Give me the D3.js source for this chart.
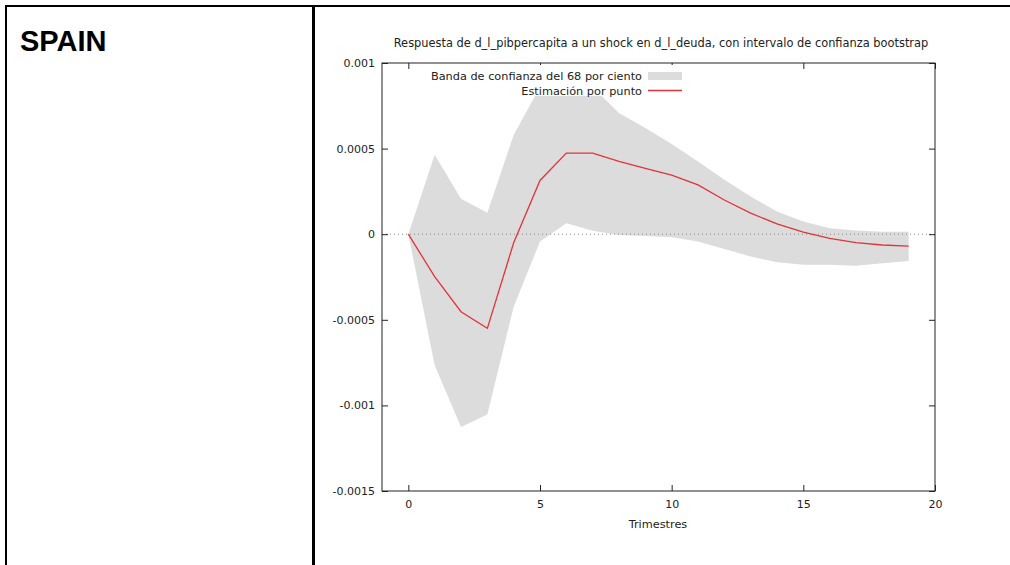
<!DOCTYPE html>
<html>
<head>
<meta charset="utf-8">
<script src="https://cdn.jsdelivr.net/npm/d3@7"></script>
<style>
    body { margin: 0; background: #fff; }
    svg { display: block; }
</style>
</head>
<body>
<script>
// impulse response, Spain

var trimestres = [0, 1, 2, 3, 4, 5, 6, 7, 8, 9, 10, 11, 12, 13, 14, 15, 16, 17, 18, 19];
var estimacion = [0, -0.000248, -0.000453, -0.00055, -0.00005, 0.000314, 0.000474, 0.000474, 0.000425, 0.000385,
    0.000345, 0.000288, 0.0002, 0.000123, 0.00006, 0.000012, -0.000024, -0.000049, -0.000063, -0.00007];
var banda_sup = [0, 0.000464, 0.000207, 0.000126, 0.00058, 0.00086, 0.00093, 0.00086, 0.000708, 0.00062,
    0.000527, 0.000425, 0.000318, 0.00022, 0.000132, 0.000074, 0.000035, 0.000021, 0.000015, 0.000015];
var banda_inf = [0, -0.000765, -0.001126, -0.001053, -0.000424, -0.000043, 0.000064, 0.00002, -0.000004, -0.00001,
    -0.000018, -0.000043, -0.000086, -0.00013, -0.000164, -0.000178, -0.000178, -0.000185, -0.00017, -0.000156];

var x_ticks = [0, 5, 10, 15, 20];
var y_ticks = [-0.0015, -0.001, -0.0005, 0, 0.0005, 0.001];
var y_labels = ["-0.0015", "-0.001", "-0.0005", "0", "0.0005", "0.001"];

var titulo = "Respuesta de d_l_pibpercapita a un shock en d_l_deuda, con intervalo de confianza bootstrap";
var leyenda = ["Banda de confianza del 68 por ciento", "Estimación por punto"];

var svg = d3.select("body").append("svg").attr("width", 1010).attr("height", 565);

// table lines
svg.append("line").attr("x1", 5).attr("x2", 1010).attr("y1", 6).attr("y2", 6)
    .style("stroke", "#000").style("stroke-width", 2);
svg.append("line").attr("x1", 6).attr("x2", 6).attr("y1", 5).attr("y2", 565)
    .style("stroke", "#000").style("stroke-width", 2);
svg.append("line").attr("x1", 313.5).attr("x2", 313.5).attr("y1", 5).attr("y2", 565)
    .style("stroke", "#000").style("stroke-width", 3);

svg.append("text").attr("x", 20).attr("y", 51)
    .style("font-family", "'Liberation Sans', Arial, sans-serif")
    .style("font-weight", "bold").style("font-size", "29px")
    .text("SPAIN");

var p_left = 382, p_right = 935, p_top = 63, p_bottom = 491;
var x = d3.scaleLinear().domain([-1, 20]).range([p_left, p_right]);
var y = d3.scaleLinear().domain([-0.0015, 0.001]).range([p_bottom, p_top]);

var font = "'DejaVu Sans', Verdana, sans-serif";

// band
var area = d3.area()
    .x(function (d, i) { return x(trimestres[i]); })
    .y0(function (d, i) { return y(banda_inf[i]); })
    .y1(function (d, i) { return y(banda_sup[i]); });
svg.append("path").datum(trimestres).attr("d", area).style("fill", "#dcdcdc");

// zero line
svg.append("line").attr("x1", p_left).attr("x2", p_right).attr("y1", y(0)).attr("y2", y(0))
    .style("stroke", "#8a8a8a").style("stroke-width", 1).style("stroke-dasharray", "1,3");

// point estimate
var line = d3.line()
    .x(function (d, i) { return x(trimestres[i]); })
    .y(function (d, i) { return y(estimacion[i]); });
svg.append("path").datum(trimestres).attr("d", line)
    .style("fill", "none").style("stroke", "#e2333b").style("stroke-width", 1.3);

// axes, ticks inward on all sides
var ax_bottom = d3.axisBottom(x).tickValues(x_ticks).tickSize(-6).tickPadding(9).tickFormat(d3.format("d"));
var ax_top = d3.axisTop(x).tickValues(x_ticks).tickSize(-6).tickFormat("");
var ax_left = d3.axisLeft(y).tickValues(y_ticks).tickSize(-6).tickPadding(7)
    .tickFormat(function (d, i) { return y_labels[i]; });
var ax_right = d3.axisRight(y).tickValues(y_ticks).tickSize(-6).tickFormat("");

var axes = [
    [ax_bottom, "translate(0," + p_bottom + ")"],
    [ax_top, "translate(0," + p_top + ")"],
    [ax_left, "translate(" + p_left + ",0)"],
    [ax_right, "translate(" + p_right + ",0)"]
];
for (var k = 0; k < axes.length; k++) {
    var g = svg.append("g").attr("transform", axes[k][1]).call(axes[k][0]);
    g.select(".domain").remove();
    g.selectAll("line").style("stroke", "#222");
    g.selectAll("text").style("font-family", font).style("font-size", "11px").style("fill", "#222");
}

svg.append("rect").attr("x", p_left).attr("y", p_top).attr("width", p_right - p_left).attr("height", p_bottom - p_top)
    .style("fill", "none").style("stroke", "#222").style("stroke-width", 1);

// legend, opaque
svg.append("rect").attr("x", 424).attr("y", 65).attr("width", 264).attr("height", 31).style("fill", "#fff");
svg.append("text").attr("x", 642).attr("y", 80).attr("text-anchor", "end")
    .style("font-family", font).style("font-size", "11.3px").style("fill", "#222").text(leyenda[0]);
svg.append("rect").attr("x", 648).attr("y", 72).attr("width", 34).attr("height", 8).style("fill", "#dcdcdc");
svg.append("text").attr("x", 642).attr("y", 94.5).attr("text-anchor", "end")
    .style("font-family", font).style("font-size", "11.3px").style("fill", "#222").text(leyenda[1]);
svg.append("line").attr("x1", 648).attr("x2", 682).attr("y1", 90.5).attr("y2", 90.5)
    .style("stroke", "#e2333b").style("stroke-width", 1.3);

// title and x label
svg.append("text").attr("x", 661).attr("y", 47).attr("text-anchor", "middle")
    .style("font-family", font).style("font-size", "11.4px").style("fill", "#222").text(titulo);
svg.append("text").attr("x", 658).attr("y", 528).attr("text-anchor", "middle")
    .style("font-family", font).style("font-size", "11.3px").style("fill", "#222").text("Trimestres");
</script>
</body>
</html>
